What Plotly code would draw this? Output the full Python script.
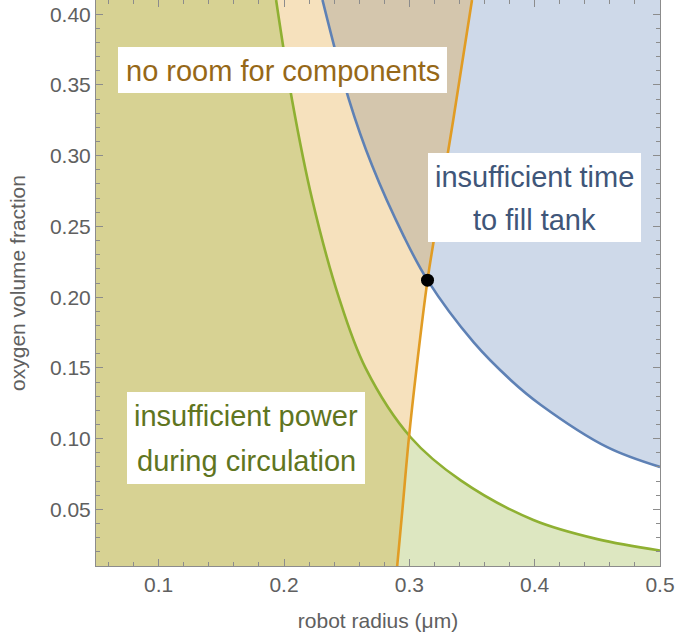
import plotly.graph_objects as go

# Feasibility limits for a micro-robot oxygen tank: robot radius (um) vs oxygen volume fraction
X_RANGE = [0.05, 0.5]
Y_RANGE = [0.01, 0.41]

# "insufficient time to fill tank" boundary (region above/right is excluded)
time_r = [0.2307, 0.2517, 0.2703, 0.2956, 0.3145, 0.3514, 0.3808, 0.4047, 0.4579, 0.5]
time_f = [0.410, 0.340, 0.293, 0.243, 0.212, 0.168, 0.1415, 0.124, 0.094, 0.080]

# "no room for components" boundary (region to the left is excluded)
room_r = [0.2903, 0.2945, 0.2996, 0.3058, 0.3145, 0.3195, 0.3289, 0.3350, 0.3500]
room_f = [0.010, 0.050, 0.100, 0.150, 0.212, 0.240, 0.292, 0.325, 0.410]

# "insufficient power during circulation" boundary (region below/left is excluded)
power_r = [0.1937, 0.2065, 0.2225, 0.2437, 0.2650, 0.3010, 0.3410, 0.3990, 0.4500, 0.5]
power_f = [0.410, 0.339, 0.269, 0.200, 0.150, 0.101, 0.0705, 0.0425, 0.029, 0.021]

# design point where the time and room limits meet
opt_r = [0.3145]
opt_f = [0.212]

BLUE = "#5e81b5"
ORANGE = "#e19c24"
GREEN = "#8fb032"
BLUE_FILL = "rgba(94,129,181,0.3)"
ORANGE_FILL = "rgba(225,156,36,0.3)"
GREEN_FILL = "rgba(143,176,50,0.3)"
BLUE_TEXT = "#3f5679"
ORANGE_TEXT = "#966818"
GREEN_TEXT = "#5f7521"

FONT = "Liberation Sans, Arial, sans-serif"
AXIS_GRAY = "#8c8c8c"
LABEL_GRAY = "#606060"

fig = go.Figure()

# --- shaded regions (blue under orange under green) ---
# blue: closed against the top-right corner of the frame
fig.add_trace(go.Scatter(
    x=[time_r[0], X_RANGE[1]], y=[Y_RANGE[1], Y_RANGE[1]],
    mode="lines", line=dict(width=0), hoverinfo="skip", showlegend=False))
fig.add_trace(go.Scatter(
    x=time_r, y=time_f, mode="lines", fill="tonexty", fillcolor=BLUE_FILL,
    line=dict(width=0, shape="spline"), hoverinfo="skip", showlegend=False))

# orange: everything left of the curve
fig.add_trace(go.Scatter(
    x=room_r, y=room_f, mode="lines", fill="tozerox", fillcolor=ORANGE_FILL,
    line=dict(width=0, shape="spline"), hoverinfo="skip", showlegend=False))

# green: closed against the left and bottom edges of the frame
fig.add_trace(go.Scatter(
    x=[X_RANGE[0], X_RANGE[0], X_RANGE[1]], y=[Y_RANGE[1], Y_RANGE[0], Y_RANGE[0]],
    mode="lines", line=dict(width=0), hoverinfo="skip", showlegend=False))
fig.add_trace(go.Scatter(
    x=power_r, y=power_f, mode="lines", fill="tonexty", fillcolor=GREEN_FILL,
    line=dict(width=0, shape="spline"), hoverinfo="skip", showlegend=False))

# --- boundary curves ---
fig.add_trace(go.Scatter(x=time_r, y=time_f, mode="lines",
                         line=dict(color=BLUE, width=2.6, shape="spline"),
                         hoverinfo="skip", showlegend=False))
fig.add_trace(go.Scatter(x=power_r, y=power_f, mode="lines",
                         line=dict(color=GREEN, width=2.6, shape="spline"),
                         hoverinfo="skip", showlegend=False))
fig.add_trace(go.Scatter(x=room_r, y=room_f, mode="lines",
                         line=dict(color=ORANGE, width=2.6, shape="spline"),
                         hoverinfo="skip", showlegend=False))

fig.add_trace(go.Scatter(x=opt_r, y=opt_f, mode="markers",
                         marker=dict(color="black", size=13),
                         hoverinfo="skip", showlegend=False))

# --- label boxes ---
W, H = 678, 636
M_L, M_R, M_T, M_B = 96, 18, 0, 70
PW, PH = W - M_L - M_R, H - M_T - M_B


def px(xp):
    return (xp - M_L) / PW


def py(yp):
    return 1 - (yp - M_T) / PH


boxes = [
    (118, 47, 447, 93),
    (428, 153, 641, 242),
    (127, 392, 365, 484),
]
for x0, y0, x1, y1 in boxes:
    fig.add_shape(type="rect", xref="paper", yref="paper",
                  x0=px(x0), x1=px(x1), y0=py(y1), y1=py(y0),
                  fillcolor="white", line=dict(width=0), layer="above")

labels = [
    ("no room for components", 282.5, 71, ORANGE_TEXT),
    ("insufficient time", 534.5, 177, BLUE_TEXT),
    ("to fill tank", 534.5, 220, BLUE_TEXT),
    ("insufficient power", 246, 416, GREEN_TEXT),
    ("during circulation", 246, 461, GREEN_TEXT),
]
for text, xc, yc, color in labels:
    fig.add_annotation(text=text, xref="paper", yref="paper",
                       x=px(xc), y=py(yc), xanchor="center", yanchor="middle",
                       showarrow=False, font=dict(family=FONT, size=29, color=color))

axis_common = dict(
    showgrid=False, zeroline=False, showline=True, linecolor=AXIS_GRAY, linewidth=1,
    mirror="ticks", ticks="inside", ticklen=7, tickwidth=1, tickcolor=AXIS_GRAY,
    tickfont=dict(family=FONT, size=21, color=LABEL_GRAY),
)

fig.update_xaxes(
    range=X_RANGE, tick0=0, dtick=0.1, tickformat=".1f",
    minor=dict(dtick=0.02, tick0=0, ticks="inside", ticklen=4, tickcolor=AXIS_GRAY),
    title=dict(text="robot radius (μm)", font=dict(family=FONT, size=21, color=LABEL_GRAY),
               standoff=18),
    **axis_common,
)
fig.update_yaxes(
    range=Y_RANGE, tick0=0, dtick=0.05, tickformat=".2f",
    minor=dict(dtick=0.01, tick0=0, ticks="inside", ticklen=4, tickcolor=AXIS_GRAY),
    title=dict(text="oxygen volume fraction", font=dict(family=FONT, size=21, color=LABEL_GRAY),
               standoff=18),
    **axis_common,
)

fig.update_layout(
    width=W, height=H,
    margin=dict(l=M_L, r=M_R, t=M_T, b=M_B),
    plot_bgcolor="white", paper_bgcolor="white",
    showlegend=False,
)

fig.write_html("out.html")
